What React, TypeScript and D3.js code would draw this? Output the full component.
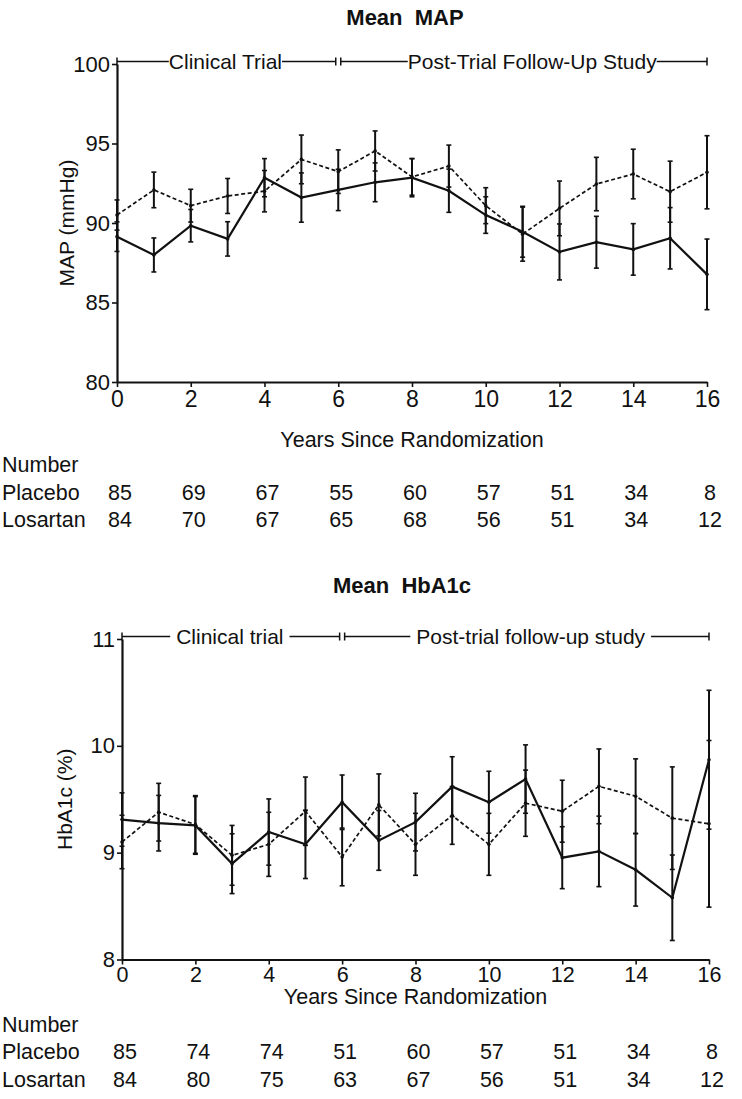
import React, { useEffect, useRef } from 'react';
import * as d3 from 'd3';

// ---------- DATA ----------
const YEARS = [0, 1, 2, 3, 4, 5, 6, 7, 8, 9, 10, 11, 12, 13, 14, 15, 16];
const X_TICKS = [0, 2, 4, 6, 8, 10, 12, 14, 16];
const TABLE_YEARS = [0, 2, 4, 6, 8, 10, 12, 14, 16];

const MAP_TICKS = [80, 85, 90, 95, 100];
const MAP_LOSARTAN = [89.14, 87.99, 89.83, 89.0, 92.85, 91.6, 92.08, 92.56, 92.85, 92.03, 90.5, 89.45, 88.18, 88.79, 88.34, 89.04, 86.77];
const MAP_LOSARTAN_ERR = [0.93, 1.07, 1.02, 1.08, 1.2, 1.55, 1.3, 1.22, 1.2, 1.36, 1.15, 1.6, 1.76, 1.63, 1.62, 1.93, 2.22];
const MAP_PLACEBO = [90.5, 92.08, 91.09, 91.7, 92.0, 94.0, 93.23, 94.53, 92.9, 93.58, 91.09, 89.3, 90.92, 92.45, 93.08, 91.97, 93.19];
const MAP_PLACEBO_ERR = [0.95, 1.12, 1.03, 1.1, 1.3, 1.53, 1.37, 1.26, 1.15, 1.32, 1.13, 1.7, 1.72, 1.68, 1.56, 1.92, 2.3];
const MAP_N_PLACEBO = [85, 69, 67, 55, 60, 57, 51, 34, 8];
const MAP_N_LOSARTAN = [84, 70, 67, 65, 68, 56, 51, 34, 12];

const HBA_TICKS = [8, 9, 10, 11];
const HBA_LOSARTAN = [9.31, 9.276, 9.255, 8.897, 9.193, 9.078, 9.472, 9.115, 9.286, 9.618, 9.472, 9.689, 8.953, 9.012, 8.84, 8.578, 9.87];
const HBA_LOSARTAN_ERR = [0.25, 0.26, 0.27, 0.28, 0.31, 0.32, 0.255, 0.28, 0.27, 0.28, 0.29, 0.32, 0.29, 0.33, 0.34, 0.4, 0.65];
const HBA_PLACEBO = [9.1, 9.379, 9.264, 8.975, 9.078, 9.388, 8.96, 9.447, 9.078, 9.348, 9.078, 9.463, 9.388, 9.621, 9.528, 9.323, 9.27];
const HBA_PLACEBO_ERR = [0.25, 0.27, 0.27, 0.28, 0.3, 0.32, 0.27, 0.29, 0.29, 0.27, 0.29, 0.31, 0.29, 0.35, 0.35, 0.48, 0.78];
const HBA_N_PLACEBO = [85, 74, 74, 51, 60, 57, 51, 34, 8];
const HBA_N_LOSARTAN = [84, 80, 75, 63, 67, 56, 51, 34, 12];

const TRIAL_END = 6;

// ---------- LAYOUT ----------
const FONT = '"Liberation Sans", Arial, Helvetica, sans-serif';
const INK = '#111';

const PANELS = [
  {
    title: 'Mean  MAP', titleX: 405, titleY: 25,
    x0: 117, x1: 707, yTop: 64, yBottom: 382, domain: [80, 100], ticks: MAP_TICKS,
    yLabel: 'MAP (mmHg)', yLabelX: 74,
    solid: MAP_LOSARTAN, solidErr: MAP_LOSARTAN_ERR, dashed: MAP_PLACEBO, dashedErr: MAP_PLACEBO_ERR,
    annLeft: 'Clinical Trial', annRight: 'Post-Trial Follow-Up Study', annLeftC: 2.94, annRightC: 11.26, annGap: 0,
    xTickFont: 23, xTickPad: 4, xTitleY: 447,
    tableY: [472, 500, 527], nPlacebo: MAP_N_PLACEBO, nLosartan: MAP_N_LOSARTAN,
  },
  {
    title: 'Mean  HbA1c', titleX: 402, titleY: 593,
    x0: 122, x1: 709, yTop: 639, yBottom: 959.5, domain: [8, 11], ticks: HBA_TICKS,
    yLabel: 'HbA1c (%)', yLabelX: 72,
    solid: HBA_LOSARTAN, solidErr: HBA_LOSARTAN_ERR, dashed: HBA_PLACEBO, dashedErr: HBA_PLACEBO_ERR,
    annLeft: 'Clinical trial', annRight: 'Post-trial follow-up study', annLeftC: 2.94, annRightC: 11.14, annGap: 6,
    xTickFont: 21.5, xTickPad: 2, xTitleY: 1004,
    tableY: [1032, 1059, 1087], nPlacebo: HBA_N_PLACEBO, nLosartan: HBA_N_LOSARTAN,
  },
];

function drawPanel(svg: any, p: any) {
  const g = svg.append('g');
  const x = d3.scaleLinear().domain([0, 16]).range([p.x0, p.x1]);
  const y = d3.scaleLinear().domain(p.domain).range([p.yBottom, p.yTop]);

  // title
  g.append('text')
    .attr('x', p.titleX).attr('y', p.titleY)
    .attr('text-anchor', 'middle')
    .attr('font-family', FONT).attr('font-size', 22).attr('font-weight', 'bold')
    .attr('fill', INK)
    .attr('xml:space', 'preserve')
    .style('white-space', 'pre')
    .text(p.title);

  // y axis
  const ya = g.append('g').attr('transform', `translate(${p.x0},0)`)
    .call(d3.axisLeft(y).tickValues(p.ticks).tickSize(5).tickSizeOuter(0).tickPadding(2).tickFormat(d3.format('d')));
  ya.select('.domain').attr('stroke', INK).attr('stroke-width', 2.2);
  ya.selectAll('.tick line').attr('stroke', INK).attr('stroke-width', 1.6);
  ya.selectAll('.tick text').attr('font-family', FONT).attr('font-size', 22).attr('fill', INK);

  // x axis
  const xa = g.append('g').attr('transform', `translate(0,${p.yBottom})`)
    .call(d3.axisBottom(x).tickValues(X_TICKS).tickSize(5).tickSizeOuter(0).tickPadding(p.xTickPad));
  xa.select('.domain').attr('stroke', INK).attr('stroke-width', 2.2);
  xa.selectAll('.tick line').attr('stroke', INK).attr('stroke-width', 1.6);
  xa.selectAll('.tick text').attr('font-family', FONT).attr('font-size', p.xTickFont).attr('fill', INK);

  // y label
  g.append('text')
    .attr('transform', `translate(${p.yLabelX},${(p.yTop + p.yBottom) / 2}) rotate(-90)`)
    .attr('text-anchor', 'middle')
    .attr('font-family', FONT).attr('font-size', 21).attr('fill', INK)
    .text(p.yLabel);

  // x title
  g.append('text')
    .attr('x', (p.x0 + p.x1) / 2).attr('y', p.xTitleY)
    .attr('text-anchor', 'middle')
    .attr('font-family', FONT).attr('font-size', 21.5).attr('fill', INK)
    .text('Years Since Randomization');

  // series
  const series = [
    { v: p.dashed, e: p.dashedErr, dash: '4,2.5', w: 1.7 },
    { v: p.solid, e: p.solidErr, dash: null, w: 2.2 },
  ];
  series.forEach((s) => {
    const pts = YEARS.map((yr, i) => ({ yr, v: s.v[i], e: s.e[i] }));
    // error bars
    const eb = g.append('g').attr('stroke', INK).attr('stroke-width', 2);
    pts.forEach((d) => {
      eb.append('line').attr('x1', x(d.yr)).attr('x2', x(d.yr)).attr('y1', y(d.v - d.e)).attr('y2', y(d.v + d.e));
      [d.v - d.e, d.v + d.e].forEach((c) => {
        eb.append('line').attr('x1', x(d.yr) - 2.5).attr('x2', x(d.yr) + 2.5).attr('y1', y(c)).attr('y2', y(c)).attr('stroke-width', 1.6);
      });
    });
    const line = d3.line<any>().x((d) => x(d.yr)).y((d) => y(d.v));
    const path = g.append('path').datum(pts).attr('d', line)
      .attr('fill', 'none').attr('stroke', INK).attr('stroke-width', s.w);
    if (s.dash) path.attr('stroke-dasharray', s.dash);
    g.append('g').selectAll('circle').data(pts).enter().append('circle')
      .attr('cx', (d: any) => x(d.yr)).attr('cy', (d: any) => y(d.v)).attr('r', 1.8).attr('fill', INK);
  });

  // annotation
  const ly = p.yTop - 2.5;
  const ann = g.append('g');
  const lt = ann.append('text').attr('x', x(p.annLeftC)).attr('y', ly + 7.5)
    .attr('text-anchor', 'middle').attr('font-family', FONT).attr('font-size', 21).attr('fill', INK).text(p.annLeft);
  const rt = ann.append('text').attr('x', x(p.annRightC)).attr('y', ly + 7.5)
    .attr('text-anchor', 'middle').attr('font-family', FONT).attr('font-size', 21).attr('fill', INK).text(p.annRight);
  const lw = (lt.node() as SVGTextElement).getComputedTextLength();
  const rw = (rt.node() as SVGTextElement).getComputedTextLength();
  const b1 = x(TRIAL_END) - 2.5, b2 = x(TRIAL_END) + 2.5;
  const segs = [
    [x(0), x(p.annLeftC) - lw / 2 - p.annGap],
    [x(p.annLeftC) + lw / 2 + p.annGap, b1],
    [b2, x(p.annRightC) - rw / 2 - p.annGap],
    [x(p.annRightC) + rw / 2 + p.annGap, x(16)],
  ];
  segs.forEach(([a, b]) => {
    ann.append('line').attr('x1', a).attr('x2', b).attr('y1', ly).attr('y2', ly).attr('stroke', INK).attr('stroke-width', 1.5);
  });
  [x(0), b1, b2, x(16)].forEach((t) => {
    ann.append('line').attr('x1', t).attr('x2', t).attr('y1', ly - 4).attr('y2', ly + 4).attr('stroke', INK).attr('stroke-width', 1.5);
  });

  // number-at-risk table
  const tf = (sel: any) => sel.attr('font-family', FONT).attr('font-size', 21.5).attr('fill', INK);
  tf(g.append('text').attr('x', 2).attr('y', p.tableY[0]).text('Number'));
  tf(g.append('text').attr('x', 2).attr('y', p.tableY[1]).text('Placebo'));
  tf(g.append('text').attr('x', 2).attr('y', p.tableY[2]).text('Losartan'));
  TABLE_YEARS.forEach((yr, i) => {
    tf(g.append('text').attr('x', x(yr) + 3).attr('y', p.tableY[1]).attr('text-anchor', 'middle').attr('font-size', 22.5).text(String(p.nPlacebo[i])));
    tf(g.append('text').attr('x', x(yr) + 3).attr('y', p.tableY[2]).attr('text-anchor', 'middle').attr('font-size', 22.5).text(String(p.nLosartan[i])));
  });
}

export default function App() {
  const ref = useRef<SVGSVGElement>(null);
  useEffect(() => {
    const svg = d3.select(ref.current);
    svg.selectAll('*').remove();
    PANELS.forEach((p) => drawPanel(svg, p));
  }, []);
  return (
    <svg
      ref={ref}
      width={742}
      height={1099}
      style={{ position: 'absolute', left: 0, top: 0, background: '#fff' }}
    />
  );
}
